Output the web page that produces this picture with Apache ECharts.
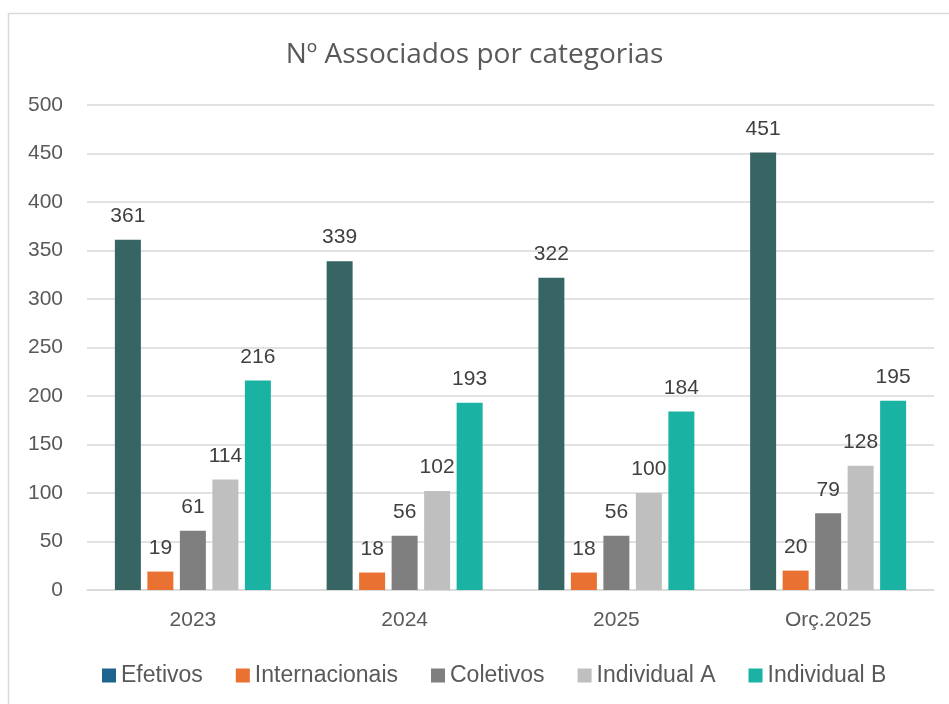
<!DOCTYPE html>
<html>
<head>
<meta charset="utf-8">
<script src="https://cdn.jsdelivr.net/npm/echarts@6/dist/echarts.min.js"></script>
<style>
  html, body { margin: 0; padding: 0; background: #fff; }
  #chart { width: 949px; height: 704px; }
</style>
</head>
<body>
<div id="chart"></div>
<script>
const categories = ['2023', '2024', '2025', 'Orç.2025']
const seriesNames = ['Efetivos', 'Internacionais', 'Coletivos', 'Individual A', 'Individual B']
const efetivos = [361, 339, 322, 451]
const internacionais = [19, 18, 18, 20]
const coletivos = [61, 56, 56, 79]
const individualA = [114, 102, 100, 128]
const individualB = [216, 193, 184, 195]
const yTicks = [0, 50, 100, 150, 200, 250, 300, 350, 400, 450, 500]

const barColors = ['#366563', '#E97132', '#7F7F7F', '#BFBFBF', '#1AB2A3']
// the legend swatch of Efetivos is a different blue than its bars in the original
const legendColors = ['#1F6391', '#E97132', '#7F7F7F', '#BFBFBF', '#1AB2A3']
const FONT = '"Liberation Sans", Arial, sans-serif'

const chart = echarts.init(document.getElementById('chart'))

const allData = [efetivos, internacionais, coletivos, individualA, individualB]
const series = allData.map((d, i) => ({
  name: seriesNames[i],
  type: 'bar',
  data: d,
  barWidth: 26,
  barGap: '25%',
  itemStyle: { color: barColors[i] },
  label: {
    show: true,
    position: 'top',
    distance: 13,
    fontFamily: FONT,
    fontSize: 21,
    color: '#404040'
  }
}))

const option = {
  animation: false,
  textStyle: { fontFamily: FONT },
  graphic: [{
    type: 'rect',
    shape: { x: 8.5, y: 13.5, width: 960, height: 720 },
    style: { fill: 'none', stroke: '#d9d9d9', lineWidth: 1.5 },
    silent: true
  }],
  title: {
    text: 'Nº Associados por categorias',
    left: 'center',
    top: 36,
    textStyle: { fontFamily: '"Open Sans", sans-serif', fontSize: 28, fontWeight: 'normal', color: '#595959' }
  },
  legend: {
    top: 659,
    left: 97,
    itemWidth: 14,
    itemHeight: 14,
    itemGap: 33,
    icon: 'rect',
    textStyle: { fontFamily: FONT, fontSize: 23, color: '#595959' },
    data: seriesNames.map((n, i) => ({ name: n, itemStyle: { color: legendColors[i] } }))
  },
  grid: { left: 87, right: 15, top: 105, bottom: 114, containLabel: false },
  xAxis: {
    type: 'category',
    data: categories,
    axisTick: { show: false },
    axisLine: { lineStyle: { color: '#d9d9d9', width: 1.5 } },
    axisLabel: { fontFamily: FONT, fontSize: 21, color: '#595959', margin: 20 }
  },
  yAxis: {
    type: 'value',
    min: yTicks[0],
    max: yTicks[yTicks.length - 1],
    interval: 50,
    axisLine: { show: false },
    axisTick: { show: false },
    splitLine: { lineStyle: { color: '#d9d9d9', width: 1.5 } },
    axisLabel: { fontFamily: FONT, fontSize: 21, color: '#595959', margin: 24 }
  },
  series: series
}

chart.setOption(option)
</script>
</body>
</html>
